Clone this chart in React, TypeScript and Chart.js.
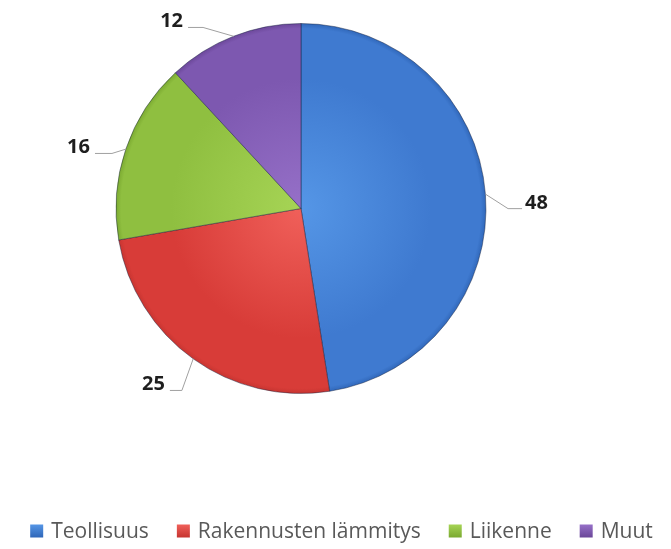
import React, { useEffect, useRef } from "react";
import { Chart, registerables } from "chart.js";

Chart.register(...registerables);

const categories = ["Teollisuus", "Rakennusten lämmitys", "Liikenne", "Muut"];
const values = [48, 25, 16, 12];

// style
const innerColors = ["#5596e6", "#f0605a", "#a6d455", "#9670c8"];
const outerColors = ["#2f66b8", "#c63430", "#7aa930", "#6a4698"];
const legendColors = ["#3f7ad0", "#d83c38", "#8fbf40", "#7d58b0"];
// leader-line elbow offsets from arc midpoint, horizontal segment length
const elbowOffsets = [
  [22.6, 14.5],
  [-11.3, 31.6],
  [-13.8, 4.3],
  [-30.5, -8.8],
];
const hLens = [14, -12, -17, -15];

const labelPlugin = {
  id: "leaderLabels",
  afterDatasetsDraw(chart: any) {
    const ctx = chart.ctx;
    const meta = chart.getDatasetMeta(0);
    ctx.save();
    meta.data.forEach((arc: any, i: number) => {
      const { x, y, startAngle, endAngle, outerRadius } = arc.getProps(
        ["x", "y", "startAngle", "endAngle", "outerRadius"],
        true
      );
      const a = (startAngle + endAngle) / 2;
      const px = x + Math.cos(a) * outerRadius;
      const py = y + Math.sin(a) * outerRadius;
      const ex = px + elbowOffsets[i][0];
      const ey = py + elbowOffsets[i][1];
      const lx = ex + hLens[i];
      ctx.strokeStyle = "#a0a0a0";
      ctx.lineWidth = 1;
      ctx.beginPath();
      ctx.moveTo(px, py);
      ctx.lineTo(ex, ey);
      ctx.lineTo(lx, ey);
      ctx.stroke();
      ctx.fillStyle = "#1e1e1e";
      ctx.font = "bold 20px 'Open Sans'";
      ctx.textBaseline = "alphabetic";
      const right = hLens[i] > 0;
      ctx.textAlign = right ? "left" : "right";
      ctx.fillText(String(values[i]), right ? lx + 3 : lx - 5, ey);
    });
    ctx.restore();
  },
};

const legendPlugin = {
  id: "customLegend",
  afterDraw(chart: any) {
    const ctx = chart.ctx;
    ctx.save();
    ctx.font = "21px 'Open Sans'";
    ctx.textBaseline = "middle";
    ctx.textAlign = "left";
    const box = 13;
    const boxGap = 8;
    const itemGap = 28;
    const widths = categories.map((c) => ctx.measureText(c).width);
    const total =
      widths.reduce((s, w) => s + w + box + boxGap, 0) + itemGap * (categories.length - 1);
    let x = (chart.width - total) / 2 + 6;
    const cy = 531;
    categories.forEach((c, i) => {
      const g = ctx.createLinearGradient(x, cy - box / 2, x, cy + box / 2);
      g.addColorStop(0, innerColors[i]);
      g.addColorStop(1, outerColors[i]);
      ctx.fillStyle = g;
      ctx.fillRect(x, cy - box / 2, box, box);
      ctx.fillStyle = "#595959";
      ctx.fillText(c, x + box + boxGap, cy + 1);
      x += box + boxGap + widths[i] + itemGap;
    });
    ctx.restore();
  },
};

function sliceColor(c: any) {
  const i = c.dataIndex;
  const chart = c.chart;
  const area = chart.chartArea;
  if (!area || i === undefined) return legendColors[i || 0];
  const cx = (area.left + area.right) / 2;
  const cy = (area.top + area.bottom) / 2;
  const r = Math.min(area.right - area.left, area.bottom - area.top) / 2;
  const g = chart.ctx.createRadialGradient(cx, cy, 0, cx, cy, r);
  g.addColorStop(0, innerColors[i]);
  g.addColorStop(0.7, legendColors[i]);
  g.addColorStop(0.97, legendColors[i]);
  g.addColorStop(1, outerColors[i]);
  return g;
}

export default function App() {
  const ref = useRef<HTMLCanvasElement>(null);
  useEffect(() => {
    if (!ref.current) return;
    const chart = new Chart(ref.current, {
      type: "pie",
      data: {
        labels: categories,
        datasets: [
          {
            data: values,
            backgroundColor: sliceColor as any,
            borderColor: "rgba(20,30,60,0.45)",
            borderWidth: 1,
          },
        ],
      },
      options: {
        responsive: false,
        animation: false,
        devicePixelRatio: 1,
        layout: { padding: { top: 23, bottom: 155, left: 0, right: 69 } },
        plugins: {
          legend: { display: false },
          tooltip: { enabled: false },
        },
      },
      plugins: [labelPlugin, legendPlugin],
    });
    return () => chart.destroy();
  }, []);
  return (
    <div style={{ position: "absolute", left: 0, top: 0, width: 671, height: 549, background: "#fff" }}>
      <canvas ref={ref} width={671} height={549} />
    </div>
  );
}
